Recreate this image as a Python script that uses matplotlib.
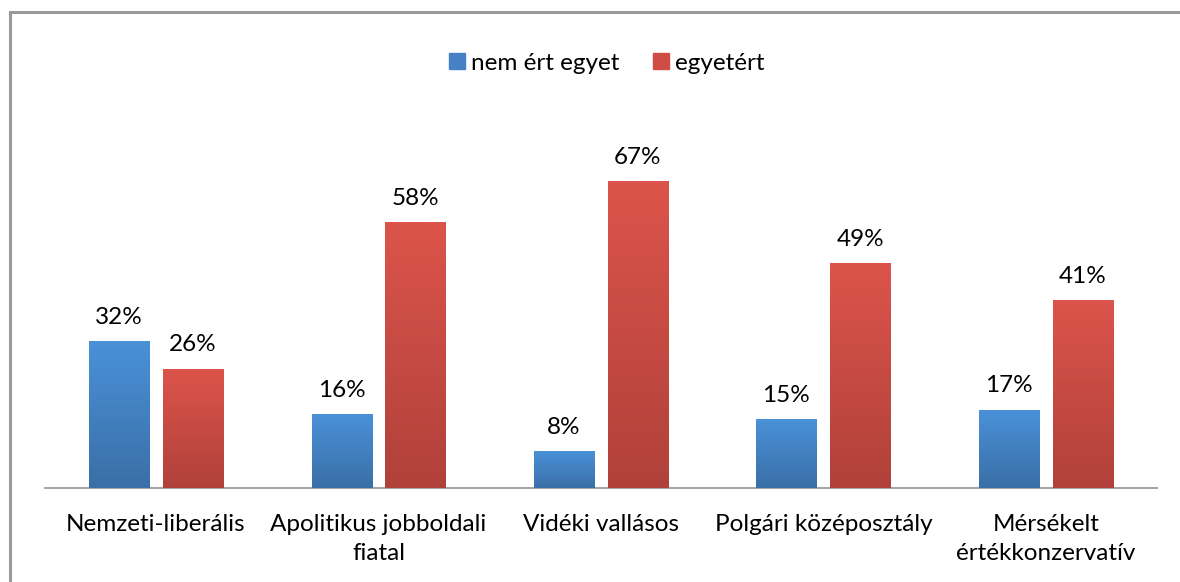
import numpy as np
import matplotlib.pyplot as plt
from matplotlib.patches import Rectangle
from matplotlib.colors import LinearSegmentedColormap

# Data
categories = ['Nemzeti-liberális', 'Apolitikus jobboldali\nfiatal', 'Vidéki vallásos',
              'Polgári középosztály', 'Mérsékelt\nértékkonzervatív']
nem_ert_egyet = [32, 16, 8, 15, 17]
egyetert = [26, 58, 67, 49, 41]

plt.rcParams['font.family'] = ['Lato', 'DejaVu Sans']

fig = plt.figure(figsize=(11.8, 5.82), dpi=100)
ax = fig.add_axes([0.038, 0.1615, 0.9425, 0.6325])

x = np.arange(len(categories))
w = 0.27
off = 0.166

blue_cmap = LinearSegmentedColormap.from_list('b', ['#3A6FA7', '#4A91D8'])
red_cmap = LinearSegmentedColormap.from_list('r', ['#B0413A', '#DC544B'])

bars1 = ax.bar(x - off, nem_ert_egyet, w, color='#4581C4', label='nem ért egyet', zorder=2)
bars2 = ax.bar(x + off, egyetert, w, color='#CF4D45', label='egyetért', zorder=2)

# gradient fill for each bar
grad = np.linspace(0, 1, 256).reshape(-1, 1)
for bars, cmap in [(bars1, blue_cmap), (bars2, red_cmap)]:
    for b in bars:
        x0, y0 = b.get_x(), b.get_y()
        ax.imshow(grad, cmap=cmap, origin='lower', aspect='auto',
                  extent=[x0, x0 + b.get_width(), y0, y0 + b.get_height()], zorder=3)
    for b in bars:
        ax.annotate(f'{int(b.get_height())}%', (b.get_x() + b.get_width() / 2, b.get_height()),
                    xytext=(0, 10), textcoords='offset points', ha='center', va='bottom',
                    fontsize=17.5, color='black')

ax.set_xlim(-0.5, len(categories) - 0.5)
ax.set_ylim(0, 80.5)
ax.set_yticks([])
ax.set_xticks(x)
ax.set_xticklabels(categories, fontsize=17.5, linespacing=1.45)
ax.tick_params(axis='x', length=0, pad=19)
for s in ['top', 'right', 'left']:
    ax.spines[s].set_visible(False)
ax.spines['bottom'].set_color('#A6A6A6')
ax.spines['bottom'].set_linewidth(1.5)

leg = fig.legend(handles=[bars1, bars2], loc='center', bbox_to_anchor=(607 / 1180, 1 - 63 / 582),
                 ncol=2, frameon=False, fontsize=17.5, handlelength=0.65, handleheight=0.65,
                 handletextpad=0.25, columnspacing=1.4)
for h, c in zip(leg.legend_handles, ['#4581C4', '#CF4D45']):
    h.set_color(c)

# outer chart frame (only left and top edges visible)
fig.patches.append(Rectangle((10 / 1180, -0.1), 1.2, 1 - 12 / 582 + 0.1, transform=fig.transFigure,
                             fill=False, edgecolor='#999999', linewidth=2.2))

fig.savefig('out.png', dpi=100)
